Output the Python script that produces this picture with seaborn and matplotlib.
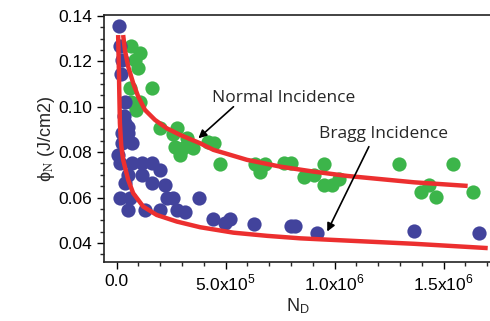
import numpy as np
import pandas as pd
import matplotlib
matplotlib.use('Agg')
import matplotlib.pyplot as plt
import seaborn as sns

# measured points, normal incidence (green)
normal_nd = [6.5e4, 1.07e5, 8.5e4, 1.0e5, 6.2e4, 1.61e5, 6.5e4, 1.07e5, 8.7e4,
             2.0e5, 2.75e5, 2.6e5, 3.22e5, 2.91e5, 2.68e5, 3.05e5, 3.52e5, 4.21e5,
             4.45e5, 4.75e5, 6.36e5, 6.59e5, 6.8e5, 7.66e5, 8.0e5, 8.58e5, 9.05e5,
             9.5e5, 9.5e5, 9.9e5, 1.02e6, 1.296e6, 1.395e6, 1.433e6, 1.465e6,
             1.541e6, 1.633e6]
normal_phi = [0.1268, 0.1236, 0.1206, 0.1170, 0.1081, 0.1081, 0.1022, 0.1022, 0.0986,
              0.0905, 0.0905, 0.0880, 0.0861, 0.0788, 0.0824, 0.0820, 0.0817, 0.0846,
              0.0839, 0.0747, 0.0747, 0.0714, 0.0747, 0.0751, 0.0751, 0.0692, 0.0699,
              0.0747, 0.0656, 0.0656, 0.0680, 0.0747, 0.0626, 0.0656, 0.0604,
              0.0747, 0.0626]

# measured points, Bragg incidence (blue)
bragg_nd = [1.2e4, 1.5e4, 2.3e4, 2.0e4, 3.8e4, 3.5e4, 5.3e4, 3.8e4, 2.3e4, 5.3e4,
            2.3e4, 6.9e4, 7.0e3, 1.5e4, 6.9e4, 1.15e5, 1.61e5, 2.0e5, 5.3e4, 1.15e5,
            3.8e4, 1.61e5, 2.22e5, 1.5e4, 6.1e4, 2.3e5, 2.6e5, 5.3e4, 1.3e5, 2.0e5,
            2.76e5, 3.15e5, 3.8e5, 4.4e5, 4.95e5, 5.2e5, 6.3e5, 7.98e5, 8.2e5,
            9.2e5, 1.364e6, 1.664e6]
bragg_phi = [0.1356, 0.1268, 0.1206, 0.1144, 0.1022, 0.0959, 0.0912, 0.0929, 0.0883,
             0.0883, 0.0839, 0.0839, 0.0788, 0.0751, 0.0751, 0.0751, 0.0751, 0.0722,
             0.0700, 0.0700, 0.0663, 0.0663, 0.0656, 0.0597, 0.0597, 0.0597, 0.0597,
             0.0545, 0.0545, 0.0545, 0.0545, 0.0535, 0.0597, 0.0504, 0.0487, 0.0504,
             0.0484, 0.0475, 0.0475, 0.0445, 0.0454, 0.0445]

# fitted curves
normal_fit_nd = [3.0e4, 3.8e4, 5.3e4, 7.6e4, 9.9e4, 1.30e5, 1.76e5, 2.3e5, 2.91e5,
                 3.83e5, 4.44e5, 5.98e5, 7.51e5, 9.04e5, 1.058e6, 1.211e6, 1.364e6, 1.61e6]
normal_fit_phi = [0.1316, 0.1250, 0.1177, 0.1104, 0.1045, 0.0986, 0.0942, 0.0905, 0.0876,
                  0.0839, 0.0810, 0.0766, 0.0736, 0.0714, 0.0695, 0.0681, 0.0667, 0.0651]
bragg_fit_nd = [7.0e3, 1.1e4, 1.5e4, 2.1e4, 3.0e4, 5.3e4, 7.6e4, 1.22e5, 1.84e5, 2.76e5,
                3.83e5, 5.36e5, 6.9e5, 8.43e5, 1.058e6, 1.364e6, 1.702e6]
bragg_fit_phi = [0.1316, 0.1131, 0.0929, 0.0830, 0.0766, 0.0678, 0.0619, 0.0560, 0.0523,
                 0.0494, 0.0469, 0.0445, 0.0431, 0.0420, 0.0410, 0.0396, 0.0377]

x_ticks = [0, 5e5, 1e6, 1.5e6]
x_tick_labels = ['0.0', r'5.0x10$^{\mathregular{5}}$', r'1.0x10$^{\mathregular{6}}$',
                 r'1.5x10$^{\mathregular{6}}$']
y_ticks = [0.04, 0.06, 0.08, 0.10, 0.12, 0.14]
y_tick_labels = ['0.04', '0.06', '0.08', '0.10', '0.12', '0.14']

green = '#3cb54a'
blue = '#42439c'
red = '#ec2f2f'

sns.set_style('ticks')
plt.rcParams['font.family'] = ['Liberation Sans', 'DejaVu Sans']
plt.rcParams['mathtext.fontset'] = 'stix'

fig = plt.figure(figsize=(4.9, 3.21), dpi=100)
ax = fig.add_axes([0.212, 0.184, 0.79, 0.769])

normal = pd.DataFrame({'nd': normal_nd, 'phi': normal_phi})
bragg = pd.DataFrame({'nd': bragg_nd, 'phi': bragg_phi})
sns.scatterplot(data=normal, x='nd', y='phi', color=green, s=105, linewidth=0, ax=ax, zorder=2)
sns.scatterplot(data=bragg, x='nd', y='phi', color=blue, s=105, linewidth=0, ax=ax, zorder=3)

nfit = pd.DataFrame({'nd': normal_fit_nd, 'phi': normal_fit_phi})
bfit = pd.DataFrame({'nd': bragg_fit_nd, 'phi': bragg_fit_phi})
for fit in (nfit, bfit):
    sns.lineplot(data=fit, x='nd', y='phi', color=red, lw=3.2, ax=ax, zorder=4,
                 sort=False, estimator=None, solid_capstyle='butt')

ax.set_xlim(-5.84e4, 1.717e6)
ax.set_ylim(0.0316, 0.1404)
ax.set_xticks(x_ticks)
ax.set_xticklabels(x_tick_labels)
ax.set_yticks(y_ticks)
ax.set_yticklabels(y_tick_labels)
ax.set_xticks(np.arange(0, 1.71e6, 1e5), minor=True)
ax.set_yticks(np.arange(0.035, 0.1401, 0.005), minor=True)
ax.tick_params(which='major', direction='out', length=5, width=1, labelsize=12.5, colors='black')
ax.tick_params(which='minor', direction='out', length=3, width=1)

for side in ['left', 'bottom', 'top']:
    ax.spines[side].set_color('#222222')
    ax.spines[side].set_linewidth(1.2)
ax.spines['right'].set_visible(False)

ax.set_xlabel(r'N$_{\mathregular{D}}$', fontsize=13, labelpad=2)
ax.set_ylabel('\u03d5$_{\\mathrm{N}}$ (J/cm2)', fontsize=13, labelpad=1)

label_font = ['Open Sans', 'DejaVu Sans']
ax.text(7.66e5, 0.1021, 'Normal Incidence', ha='center', va='baseline',
        fontsize=12.5, family=label_font, zorder=6)
ax.text(1.225e6, 0.0864, 'Bragg Incidence', ha='center', va='baseline',
        fontsize=12.5, family=label_font, zorder=6)
arrow = dict(arrowstyle='-|>', color='black', lw=1.2, mutation_scale=12,
             shrinkA=0, shrinkB=0)
ax.annotate('', xy=(3.75e5, 0.0861), xytext=(5.36e5, 0.1000), arrowprops=arrow, zorder=6)
ax.annotate('', xy=(9.66e5, 0.0450), xytext=(1.157e6, 0.0824), arrowprops=arrow, zorder=6)

fig.savefig('out.png', dpi=100)
